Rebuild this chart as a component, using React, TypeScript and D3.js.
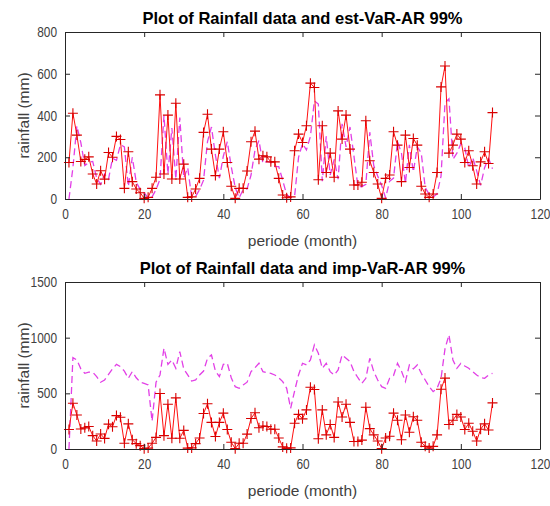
import React, { useEffect, useRef } from "react";
import * as d3 from "d3";

// monthly rainfall (mm), months 1..108
const rainfall = [
  175, 411, 306, 180, 190, 202, 120, 72, 135, 95, 223, 200, 300, 285, 51, 226, 83, 48, 30, 3,
  8, 51, 104, 499, 120, 402, 96, 459, 96, 167, 8, 10, 48, 99, 319, 406, 239, 112, 239, 322,
  175, 61, 3, 51, 51, 134, 274, 325, 191, 207, 202, 178, 178, 99, 19, 6, 10, 231, 311, 271,
  351, 555, 534, 92, 351, 127, 220, 104, 422, 287, 402, 239, 67, 67, 80, 375, 183, 127, 72, 3,
  99, 115, 322, 258, 83, 306, 151, 290, 258, 61, 24, 8, 24, 127, 537, 637, 220, 258, 311, 287,
  175, 231, 159, 72, 178, 226, 170, 414,
];

const estVaR = [
  0, 150, 350, 270, 160, 175, 180, 100, 70, 120, 95, 195, 185, 260, 250, 60, 200, 80, 45, 30,
  5, 10, 45, 95, 400, 120, 340, 95, 390, 100, 150, 10, 12, 45, 90, 275, 345, 210, 100, 205,
  275, 155, 55, 5, 45, 48, 115, 235, 280, 170, 180, 175, 155, 155, 90, 20, 8, 12, 200, 265,
  235, 300, 470, 455, 85, 300, 115, 190, 95, 360, 250, 345, 205, 60, 60, 70, 320, 160, 110, 65,
  5, 85, 100, 275, 220, 75, 260, 130, 250, 220, 55, 22, 10, 25, 110, 460, 480, 190, 220, 265,
  245, 150, 200, 135, 65, 150, 195, 145,
];

const impVaR = [
  0, 820, 800, 720, 680, 690, 690, 650, 600, 620, 670, 720, 760, 740, 700, 635, 695, 640, 600, 590,
  575, 250, 600, 665, 905, 760, 800, 725, 875, 720, 665, 610, 620, 665, 700, 815, 845, 700, 650, 760,
  770, 640, 560, 545, 575, 600, 695, 730, 770, 695, 685, 680, 665, 640, 605, 545, 365, 520, 665, 770,
  755, 800, 935, 860, 725, 770, 695, 665, 710, 845, 815, 785, 695, 640, 590, 635, 815, 695, 620, 560,
  545, 635, 660, 770, 700, 605, 755, 720, 755, 680, 620, 560, 515, 545, 635, 900, 1025, 800, 725, 770,
  745, 725, 695, 665, 640, 635, 665, 680,
];

const xTicks = [0, 20, 40, 60, 80, 100, 120];
const topYTicks = [0, 200, 400, 600, 800];
const bottomYTicks = [0, 500, 1000, 1500];

const panels = [
  { title: "Plot of Rainfall data and est-VaR-AR 99%", varData: estVaR, yTicks: topYTicks, top: 32, bottom: 199 },
  { title: "Plot of Rainfall data and imp-VaR-AR 99%", varData: impVaR, yTicks: bottomYTicks, top: 282, bottom: 449 },
];

const W = 550;
const H = 506;
const left = 65;
const right = 540;
const font = "'Liberation Sans', Arial, sans-serif";
const axisColor = "#262626";
const textColor = "#404040";

const App = () => {
  const svgRef = useRef(null);

  useEffect(() => {
    const svg = d3.select(svgRef.current);
    svg.selectAll("*").remove();

    const xScale = d3.scaleLinear().domain([0, 120]).range([left, right]);

    panels.forEach((p) => {
      const yMax = p.yTicks[p.yTicks.length - 1];
      const yScale = d3.scaleLinear().domain([0, yMax]).range([p.bottom, p.top]);
      const g = svg.append("g");

      const line = d3
        .line<number>()
        .x((d, i) => xScale(i + 1))
        .y((d) => yScale(d));

      // VaR dashed line
      g.append("path")
        .datum(p.varData)
        .attr("fill", "none")
        .attr("stroke", "#e23fe6")
        .attr("stroke-width", 1.3)
        .attr("stroke-dasharray", "7,4")
        .attr("d", line);

      // rainfall line
      g.append("path")
        .datum(rainfall)
        .attr("fill", "none")
        .attr("stroke", "#ff1010")
        .attr("stroke-width", 1)
        .attr("d", line);

      // + markers
      const mk = 5;
      g.selectAll(".plus")
        .data(rainfall)
        .enter()
        .append("path")
        .attr("class", "plus")
        .attr("fill", "none")
        .attr("stroke", "#d80000")
        .attr("stroke-width", 1.1)
        .attr("d", (d, i) => {
          const cx = xScale(i + 1);
          const cy = yScale(d);
          return `M${cx - mk},${cy}H${cx + mk}M${cx},${cy - mk}V${cy + mk}`;
        });

      // axes: inward ticks on all four sides
      const bottomAxis = g
        .append("g")
        .attr("transform", `translate(0,${p.bottom})`)
        .call(
          d3.axisBottom(xScale).tickValues(xTicks).tickSizeInner(-5).tickSizeOuter(0).tickPadding(10).tickFormat(d3.format("d"))
        );
      g.append("g")
        .attr("transform", `translate(0,${p.top})`)
        .call(d3.axisTop(xScale).tickValues(xTicks).tickSizeInner(-5).tickSizeOuter(0).tickFormat(() => ""));
      const leftAxis = g
        .append("g")
        .attr("transform", `translate(${left},0)`)
        .call(
          d3.axisLeft(yScale).tickValues(p.yTicks).tickSizeInner(-5).tickSizeOuter(0).tickPadding(8).tickFormat(d3.format("d"))
        );
      g.append("g")
        .attr("transform", `translate(${right},0)`)
        .call(d3.axisRight(yScale).tickValues(p.yTicks).tickSizeInner(-5).tickSizeOuter(0).tickFormat(() => ""));

      g.selectAll(".domain").attr("stroke", axisColor);
      g.selectAll(".tick line").attr("stroke", axisColor);
      // tick labels in the reference are tall and narrow
      bottomAxis
        .selectAll("text")
        .attr("fill", textColor)
        .style("font-size", "14.5px")
        .style("font-family", font)
        .attr("transform", "scale(0.82,1)");
      leftAxis
        .selectAll("text")
        .attr("fill", textColor)
        .style("font-size", "14.5px")
        .style("font-family", font)
        .attr("x", -8 / 0.82)
        .attr("transform", "scale(0.82,1)");

      g.append("text")
        .attr("x", (left + right) / 2)
        .attr("y", p.top - 8)
        .attr("text-anchor", "middle")
        .style("font-family", font)
        .style("font-size", "16.5px")
        .style("font-weight", "bold")
        .attr("fill", "#000")
        .text(p.title);

      g.append("text")
        .attr("x", (left + right) / 2)
        .attr("y", p.bottom + 47)
        .attr("text-anchor", "middle")
        .style("font-family", font)
        .style("font-size", "15.5px")
        .attr("fill", textColor)
        .text("periode (month)");

      g.append("text")
        .attr("transform", `translate(29,${(p.top + p.bottom) / 2}) rotate(-90)`)
        .attr("text-anchor", "middle")
        .style("font-family", font)
        .style("font-size", "15.5px")
        .attr("fill", textColor)
        .text("rainfall (mm)");
    });
  }, []);

  return (
    <div style={{ position: "absolute", left: 0, top: 0 }}>
      <svg ref={svgRef} width={W} height={H} style={{ display: "block", background: "#fff" }}></svg>
    </div>
  );
};

export default App;
